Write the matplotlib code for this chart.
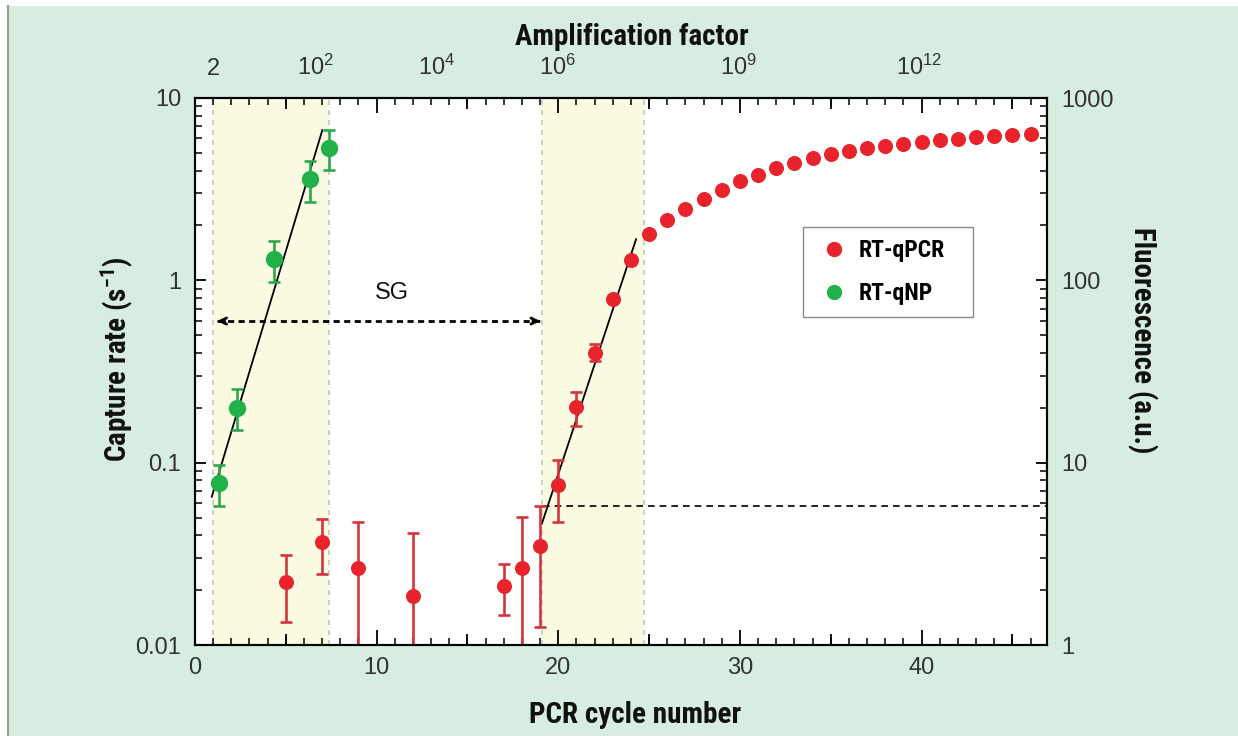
import numpy as np
import matplotlib
matplotlib.use("Agg")
import matplotlib.pyplot as plt
from matplotlib import font_manager as fm
from matplotlib.lines import Line2D
from matplotlib.patches import Rectangle
from matplotlib.ticker import MultipleLocator, NullFormatter

# ---------------- data ----------------
np_cycles = [1.34, 2.33, 4.37, 6.34, 7.38]
np_rate = [0.077, 0.20, 1.31, 3.6, 5.3]
np_lo = [0.058, 0.152, 0.98, 2.7, 4.03]
np_hi = [0.0966, 0.255, 1.64, 4.5, 6.67]

pcr_cycles = [5, 7, 9, 12, 17, 18, 19, 20, 21, 22, 23, 24]
pcr_rate = [0.0222, 0.0365, 0.0266, 0.0186, 0.021, 0.0266, 0.035, 0.0753, 0.203, 0.40, 0.79, 1.29]
pcr_lo = [0.0134, 0.0244, 0.005, 0.005, 0.0146, 0.005, 0.0126, 0.047, 0.159, 0.36, np.nan, np.nan]
pcr_hi = [0.0313, 0.049, 0.0472, 0.0409, 0.0278, 0.0503, 0.0578, 0.104, 0.245, 0.445, np.nan, np.nan]

fluo_cycles = list(range(25, 47))
fluo_values = [179, 214, 245, 280, 313, 349, 380, 411, 440, 467, 491,
               514, 530, 545, 559, 574, 589, 598, 608, 616, 624, 632]

np_fit_x = [0.92, 7.01]
np_fit_y = [0.065, 6.67]
pcr_fit_x = [19.1, 24.28]
pcr_fit_y = [0.0465, 1.68]

threshold = 0.0578
threshold_start = 19.15

bands = [(1.0, 7.4), (19.1, 24.7)]
sg_span = (1.23, 19.0)
sg_y = 0.598
sg_label_pos = (10.84, 0.85)

amp_values = [2, 1e2, 1e4, 1e6, 1e9, 1e12]
amp_labels = ["2", "$10^{2}$", "$10^{4}$", "$10^{6}$", "$10^{9}$", "$10^{12}$"]

left_ticks = [0.01, 0.1, 1, 10]
left_labels = ["0.01", "0.1", "1", "10"]
right_ticks = [1, 10, 100, 1000]
right_labels = ["1", "10", "100", "1000"]

legend_labels = ["RT-qPCR", "RT-qNP"]

# ---------------- fonts ----------------
def pick(names):
    for n in names:
        try:
            fm.findfont(fm.FontProperties(family=n), fallback_to_default=False)
            return n
        except Exception:
            pass
    return "DejaVu Sans"

narrow = pick(["Liberation Sans Narrow", "Roboto Condensed", "Open Sans Condensed", "DejaVu Sans"])
regular = pick(["Liberation Sans", "Arimo", "DejaVu Sans"])

plt.rcParams["font.family"] = [regular, "DejaVu Sans"]
plt.rcParams["mathtext.fontset"] = "custom"
plt.rcParams["mathtext.rm"] = regular
plt.rcParams["mathtext.default"] = "regular"

RED = "#e8232b"
RED_ERR = "#d3353c"
GREEN = "#20b14b"
GREEN_ERR = "#2ea650"
BAND = "#fbfbe2"
BG = "#d6eddf"
TICKC = "#333333"

W, H = 1238, 736
fig = plt.figure(figsize=(W / 100, H / 100), dpi=100, facecolor="white")
fig.patches.append(Rectangle((8 / W, 0), 1, 1 - 6 / H, transform=fig.transFigure,
                             facecolor=BG, edgecolor="none", zorder=-10))
fig.lines.append(Line2D([7.5 / W, 7.5 / W], [0, 1 - 6 / H], transform=fig.transFigure,
                        color="#9a9a9a", lw=1.5))

L, R, T, B = 195, 1047, 98, 645
ax = fig.add_axes([L / W, 1 - B / H, (R - L) / W, (B - T) / H])
ax.set_facecolor("white")
ax.set_yscale("log")
ax.set_xlim(0, 46.9)
ax.set_ylim(0.01, 10)

for a, b in bands:
    ax.axvspan(a, b, color=BAND, lw=0, zorder=0)
    for xv in (a, b):
        ax.axvline(xv, color="#c4c4c4", lw=1.2, ls=(0, (3, 3)), zorder=1)

ax.plot(np_fit_x, np_fit_y, color="black", lw=1.3, zorder=3)
ax.plot(pcr_fit_x, pcr_fit_y, color="black", lw=1.3, zorder=3)
ax.hlines(threshold, threshold_start, 46.9, colors="black", lw=1.2,
          linestyles=[(0, (4, 3))], zorder=3)

# SG dotted double arrow
ax.plot(sg_span, [sg_y, sg_y], color="black", lw=2.0, ls=(0, (2.2, 1.6)), zorder=3,
        solid_capstyle="butt")
for x0, x1 in ((sg_span[0] + 0.4, sg_span[0]), (sg_span[1] - 0.4, sg_span[1])):
    ax.annotate("", xy=(x1, sg_y), xytext=(x0, sg_y),
                arrowprops=dict(arrowstyle="->", lw=2.0, color="black",
                                mutation_scale=11, shrinkA=0, shrinkB=0), zorder=3)
ax.text(sg_label_pos[0], sg_label_pos[1], "SG", ha="center", va="center",
        fontsize=17, color="#111111", zorder=4)

np_r = np.array(np_rate)
ax.errorbar(np_cycles, np_rate, yerr=[np_r - np.array(np_lo), np.array(np_hi) - np_r],
            fmt="o", ms=11.5, mfc=GREEN, mec=GREEN, ecolor=GREEN_ERR,
            elinewidth=1.9, capsize=4.5, capthick=1.9, zorder=5)
pr = np.array(pcr_rate)
ax.errorbar(pcr_cycles, pcr_rate, yerr=[pr - np.array(pcr_lo), np.array(pcr_hi) - pr],
            fmt="o", ms=9.8, mfc=RED, mec=RED, ecolor=RED_ERR,
            elinewidth=1.9, capsize=4.5, capthick=1.9, zorder=5)

# ticks bottom/top
ax.xaxis.set_major_locator(MultipleLocator(10))
ax.xaxis.set_minor_locator(MultipleLocator(1))
ax.tick_params(axis="x", which="both", direction="in", top=True, bottom=True)
ax.tick_params(axis="x", which="major", length=10.8, width=1.3, pad=9,
               labelsize=17, labelcolor=TICKC)
ax.tick_params(axis="x", which="minor", length=5, width=1.1)
for loc in ("bottom", "top"):
    s = ax.secondary_xaxis(loc)
    s.set_xticks([5, 15, 25, 35, 45], labels=[""] * 5)
    s.tick_params(direction="in", length=8, width=1.3)
    for sp in s.spines.values():
        sp.set_visible(False)

sec = ax.secondary_xaxis("top")
sec.set_xticks(np.log2(amp_values), labels=amp_labels)
sec.tick_params(length=0, pad=13, labelsize=17, labelcolor=TICKC)
for sp in sec.spines.values():
    sp.set_visible(False)

ax.set_yticks(left_ticks, labels=left_labels)
ax.yaxis.set_minor_formatter(NullFormatter())
ax.tick_params(axis="y", which="both", direction="in", left=True, right=False)
ax.tick_params(axis="y", which="major", length=8, width=1.3, pad=10,
               labelsize=17, labelcolor=TICKC)
ax.tick_params(axis="y", which="minor", length=5, width=1.1)

for sp in ax.spines.values():
    sp.set_linewidth(1.5)

ax2 = ax.twinx()
ax2.set_yscale("log")
ax2.set_ylim(1, 1000)
ax2.plot(fluo_cycles, fluo_values, "o", ms=9.8, mfc=RED, mec=RED, zorder=5)
ax2.set_yticks(right_ticks, labels=right_labels)
ax2.yaxis.set_minor_formatter(NullFormatter())
ax2.tick_params(axis="y", which="both", direction="in")
ax2.tick_params(axis="y", which="major", length=8, width=1.3, pad=10,
                labelsize=17, labelcolor=TICKC)
ax2.tick_params(axis="y", which="minor", length=5, width=1.1)
for sp in ax2.spines.values():
    sp.set_linewidth(1.5)

# axis labels
lab = dict(family=[narrow, "DejaVu Sans"], weight="bold", fontsize=21, color="#111111")
fig.text(632 / W, 1 - 37 / H, "Amplification factor", ha="center", va="center", **lab)
fig.text(635 / W, 1 - 715 / H, "PCR cycle number", ha="center", va="center", **lab)
fig.text(117 / W, 1 - 359 / H, r"Capture rate (s$^{\mathregular{-1}}$)", ha="center",
         va="center", rotation=90, **lab)
fig.text(1142 / W, 1 - 340 / H, "Fluorescence (a.u.)", ha="center", va="center",
         rotation=270, **lab)

handles = [Line2D([], [], marker="o", ls="none", ms=10, mfc=RED, mec=RED),
           Line2D([], [], marker="o", ls="none", ms=10, mfc=GREEN, mec=GREEN)]
leg = ax2.legend(handles, legend_labels, loc="upper left", mode="expand",
                 bbox_to_anchor=(803 / W, 1 - 326 / H, 170 / W, 99 / H),
                 bbox_transform=fig.transFigure,
                 frameon=True, fancybox=False, edgecolor="#8a8a8a", framealpha=1,
                 prop=fm.FontProperties(family=narrow, weight="bold", size=17),
                 handlelength=1.6, handletextpad=0.26, borderpad=0.5,
                 labelspacing=0.86, borderaxespad=0)
leg.get_frame().set_linewidth(1.0)

fig.savefig("out.png", dpi=100, facecolor=fig.get_facecolor())
